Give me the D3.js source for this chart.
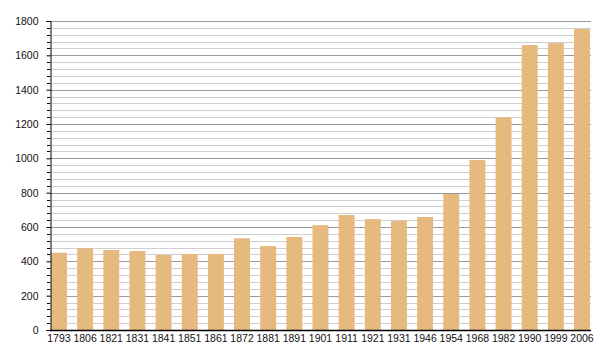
<!DOCTYPE html>
<html>
<head>
<meta charset="utf-8">
<script src="https://d3js.org/d3.v7.min.js"></script>
<style>
  body { margin: 0; background: #fff; font-family: "Liberation Sans", Arial, sans-serif; }
</style>
</head>
<body>
<div id="chart"></div>
<script>
// census years and population
var years = ["1793", "1806", "1821", "1831", "1841", "1851", "1861", "1872", "1881", "1891", "1901",
             "1911", "1921", "1931", "1946", "1954", "1968", "1982", "1990", "1999", "2006"]
var population = [450, 476, 466, 460, 437, 443, 443, 534, 489, 542, 611,
                  670, 646, 637, 658, 792, 990, 1239, 1660, 1671, 1753]
var yTicks = [0, 200, 400, 600, 800, 1000, 1200, 1400, 1600, 1800]

var width = 600, height = 360
var plotLeft = 50, plotRight = 591, plotTop = 21, plotBottom = 330

var svg = d3.select("#chart").append("svg")
    .attr("width", width)
    .attr("height", height)

var x = d3.scaleBand()
    .domain(years)
    .range([plotLeft + 1, plotRight - 1])
    .paddingInner(0.39)
    .paddingOuter(0)

var y = d3.scaleLinear()
    .domain([0, 1800])
    .range([plotBottom, plotTop])

function py(d) { return Math.round(y(d)) + 0.5 }

// minor grid every 40, major every 200
var minor = d3.range(40, 1801, 40).filter(function(v) { return v % 200 != 0 })
svg.append("g").selectAll("line")
    .data(minor)
    .enter().append("line")
    .attr("x1", plotLeft).attr("x2", plotRight)
    .attr("y1", py).attr("y2", py)
    .attr("stroke", "#cfcfcf")

svg.append("g").selectAll("line")
    .data(yTicks.slice(1))
    .enter().append("line")
    .attr("x1", plotLeft).attr("x2", plotRight)
    .attr("y1", py).attr("y2", py)
    .attr("stroke", "#9a9a9a")

// bars
svg.append("g").selectAll("rect")
    .data(population)
    .enter().append("rect")
    .attr("x", function(d, i) { return x(years[i]) })
    .attr("y", function(d) { return y(d) })
    .attr("width", x.bandwidth())
    .attr("height", function(d) { return plotBottom - y(d) })
    .attr("fill", "#e6b97f")

// minor ticks on the left axis
svg.append("g").selectAll("line")
    .data(minor)
    .enter().append("line")
    .attr("x1", plotLeft - 3).attr("x2", plotLeft)
    .attr("y1", py).attr("y2", py)
    .attr("stroke", "#000")

var yAxis = svg.append("g")
    .attr("transform", "translate(" + (plotLeft + 0.5) + ",0)")
    .call(d3.axisLeft(y).tickValues(yTicks).tickFormat(d3.format("d")).tickSize(4).tickPadding(8))
yAxis.select(".domain").attr("stroke", "#000")
yAxis.selectAll(".tick line").attr("stroke", "#000")
yAxis.selectAll("text")
    .attr("font-family", "Liberation Sans, Arial, sans-serif")
    .attr("font-size", "10.5px")
    .attr("fill", "#111")

// bottom axis line and labels
svg.append("line")
    .attr("x1", plotLeft).attr("x2", plotRight)
    .attr("y1", plotBottom + 0.5).attr("y2", plotBottom + 0.5)
    .attr("stroke", "#000")
    .attr("stroke-width", 1.5)

svg.append("g").selectAll("text")
    .data(years)
    .enter().append("text")
    .attr("x", function(d) { return x(d) + x.bandwidth() / 2 })
    .attr("y", plotBottom + 11.5)
    .attr("text-anchor", "middle")
    .attr("font-size", "10.5px")
    .attr("fill", "#111")
    .text(function(d) { return d })
</script>
</body>
</html>
